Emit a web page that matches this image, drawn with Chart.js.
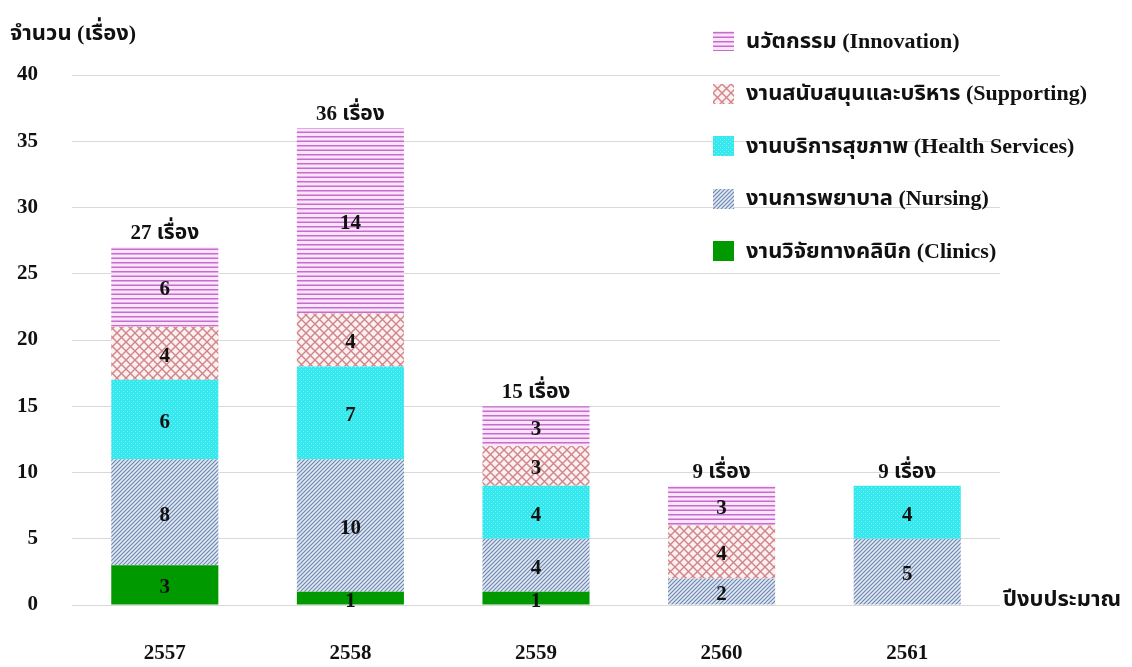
<!DOCTYPE html>
<html>
<head>
<meta charset="utf-8">
<script src="https://cdn.jsdelivr.net/npm/chart.js@4.4.1/dist/chart.umd.min.js"></script>
<style>
	body { margin: 0; background: #fff; }
	#wrap { position: relative; width: 1132px; height: 667px; }
	.lbl { position: absolute; font: bold 21px "Liberation Serif", "Noto Sans Thai", serif; color: #111; white-space: nowrap; }
	#legend-container ul { list-style: none; margin: 0; padding: 0; }
</style>
</head>
<body>
<div id="wrap">
	<canvas id="barChart"></canvas>
	<div class="lbl" style="left:10px; top:17px; font-size:22px;">จำนวน (เรื่อง)</div>
	<div class="lbl" style="left:1003px; top:583px; font-size:22px;">ปีงบประมาณ</div>
	<div id="legend-container" style="position:absolute; left:713px; top:30px;"></div>
</div>
<script>
const years = ["2557", "2558", "2559", "2560", "2561"];
const clinics = [3, 1, 1, 0, 0];
const nursing = [8, 10, 4, 2, 5];
const healthServices = [6, 7, 4, 0, 4];
const supporting = [4, 4, 3, 4, 0];
const innovation = [6, 14, 3, 3, 0];
const unit = "เรื่อง";

const FONT = '"Liberation Serif", "Noto Sans Thai", serif';

function makeTile(kind) {
	const c = document.createElement("canvas");
	const x = c.getContext("2d");
	if (kind === "innovation") {
		c.width = 9; c.height = 9;
		x.fillStyle = "#fae4fa"; x.fillRect(0, 0, 9, 9);
		x.fillStyle = "#c66ccd";
		x.fillRect(0, 1, 9, 1.5);
		x.fillRect(0, 5.5, 9, 1.5);
	} else if (kind === "supporting") {
		c.width = 9; c.height = 9;
		x.fillStyle = "#fcf0f0"; x.fillRect(0, 0, 9, 9);
		x.strokeStyle = "#d0848a"; x.lineWidth = 1.4;
		x.beginPath();
		x.moveTo(0, 0); x.lineTo(9, 9);
		x.moveTo(9, 0); x.lineTo(0, 9);
		x.stroke();
	} else if (kind === "health") {
		c.width = 4; c.height = 4;
		x.fillStyle = "#35e8ee"; x.fillRect(0, 0, 4, 4);
		x.fillStyle = "#7af3f6"; x.fillRect(1, 1, 1, 1); x.fillRect(3, 3, 1, 1);
	} else if (kind === "nursing") {
		c.width = 4; c.height = 4;
		x.fillStyle = "#e2e9f3"; x.fillRect(0, 0, 4, 4);
		x.strokeStyle = "#6f87b0"; x.lineWidth = 1.2;
		x.beginPath();
		x.moveTo(0, 4); x.lineTo(4, 0);
		x.moveTo(-1, 1); x.lineTo(1, -1);
		x.moveTo(3, 5); x.lineTo(5, 3);
		x.stroke();
	}
	return c;
}

const ctx = document.getElementById("barChart").getContext("2d");
const tiles = {
	innovation: makeTile("innovation"),
	supporting: makeTile("supporting"),
	health: makeTile("health"),
	nursing: makeTile("nursing"),
};
const pat = (k) => ctx.createPattern(tiles[k], "repeat");

const datasets = [
	{ label: "งานวิจัยทางคลินิก (Clinics)", data: clinics, backgroundColor: "#009a00", swatch: "#009a00" },
	{ label: "งานการพยาบาล (Nursing)", data: nursing, backgroundColor: pat("nursing"), swatch: tiles.nursing },
	{ label: "งานบริการสุขภาพ (Health Services)", data: healthServices, backgroundColor: pat("health"), swatch: tiles.health },
	{ label: "งานสนับสนุนและบริหาร (Supporting)", data: supporting, backgroundColor: pat("supporting"), swatch: tiles.supporting },
	{ label: "นวัตกรรม (Innovation)", data: innovation, backgroundColor: pat("innovation"), swatch: tiles.innovation },
];

const totals = years.map((y, i) => datasets.reduce((s, d) => s + d.data[i], 0));

// legend in html, top to bottom = reverse stack order
function buildLegend() {
	const box = document.getElementById("legend-container");
	const ul = document.createElement("ul");
	datasets.slice().reverse().forEach((d) => {
		const li = document.createElement("li");
		li.style.display = "flex";
		li.style.alignItems = "center";
		li.style.height = "52.5px";
		li.style.marginTop = "-15px";
		li.style.marginBottom = "15px";
		const sw = document.createElement("span");
		sw.style.display = "inline-block";
		sw.style.width = "21px";
		sw.style.height = "20px";
		sw.style.marginRight = "12px";
		if (typeof d.swatch === "string") {
			sw.style.background = d.swatch;
		} else {
			sw.style.backgroundImage = "url(" + d.swatch.toDataURL() + ")";
		}
		const t = document.createElement("span");
		t.className = "lbl";
		t.style.position = "static";
		t.style.fontSize = "22px";
		t.textContent = d.label;
		li.appendChild(sw);
		li.appendChild(t);
		ul.appendChild(li);
	});
	box.appendChild(ul);
}

const valueLabels = {
	id: "valueLabels",
	afterDatasetsDraw(chart) {
		const c = chart.ctx;
		c.save();
		c.font = "bold 21px " + FONT;
		c.fillStyle = "#111";
		c.textAlign = "center";
		c.textBaseline = "middle";
		chart.data.datasets.forEach((ds, di) => {
			const meta = chart.getDatasetMeta(di);
			meta.data.forEach((bar, i) => {
				const v = ds.data[i];
				if (!v) return;
				c.fillText(String(v), bar.x, (bar.y + bar.base) / 2 + 3);
			});
		});
		const yScale = chart.scales.y;
		const xScale = chart.scales.x;
		c.textBaseline = "bottom";
		totals.forEach((t, i) => {
			c.fillText(t + " " + unit, xScale.getPixelForValue(i), yScale.getPixelForValue(t) - 3);
		});
		c.restore();
	},
};

new Chart(ctx, {
	type: "bar",
	data: { labels: years, datasets: datasets },
	options: {
		responsive: true,
		maintainAspectRatio: false,
		animation: false,
		layout: { padding: { top: 75, right: 132, left: 0, bottom: 0 } },
		datasets: { bar: { categoryPercentage: 1, barPercentage: 0.577 } },
		plugins: { legend: { display: false }, tooltip: { enabled: false } },
		scales: {
			x: {
				stacked: true,
				grid: { display: false },
				border: { display: false },
				ticks: { color: "#111", font: { family: FONT, size: 21, weight: "bold" }, padding: 28 },
				afterFit(s) { s.height = 62; },
			},
			y: {
				stacked: true,
				min: 0,
				max: 40,
				ticks: { stepSize: 5, color: "#111", font: { family: FONT, size: 21, weight: "bold" }, padding: 34 },
				grid: { color: "#d9d9d9", lineWidth: 1, drawTicks: false },
				border: { display: false },
				afterFit(s) { s.width = 72; },
			},
		},
	},
	plugins: [valueLabels],
});
buildLegend();
</script>
</body>
</html>
